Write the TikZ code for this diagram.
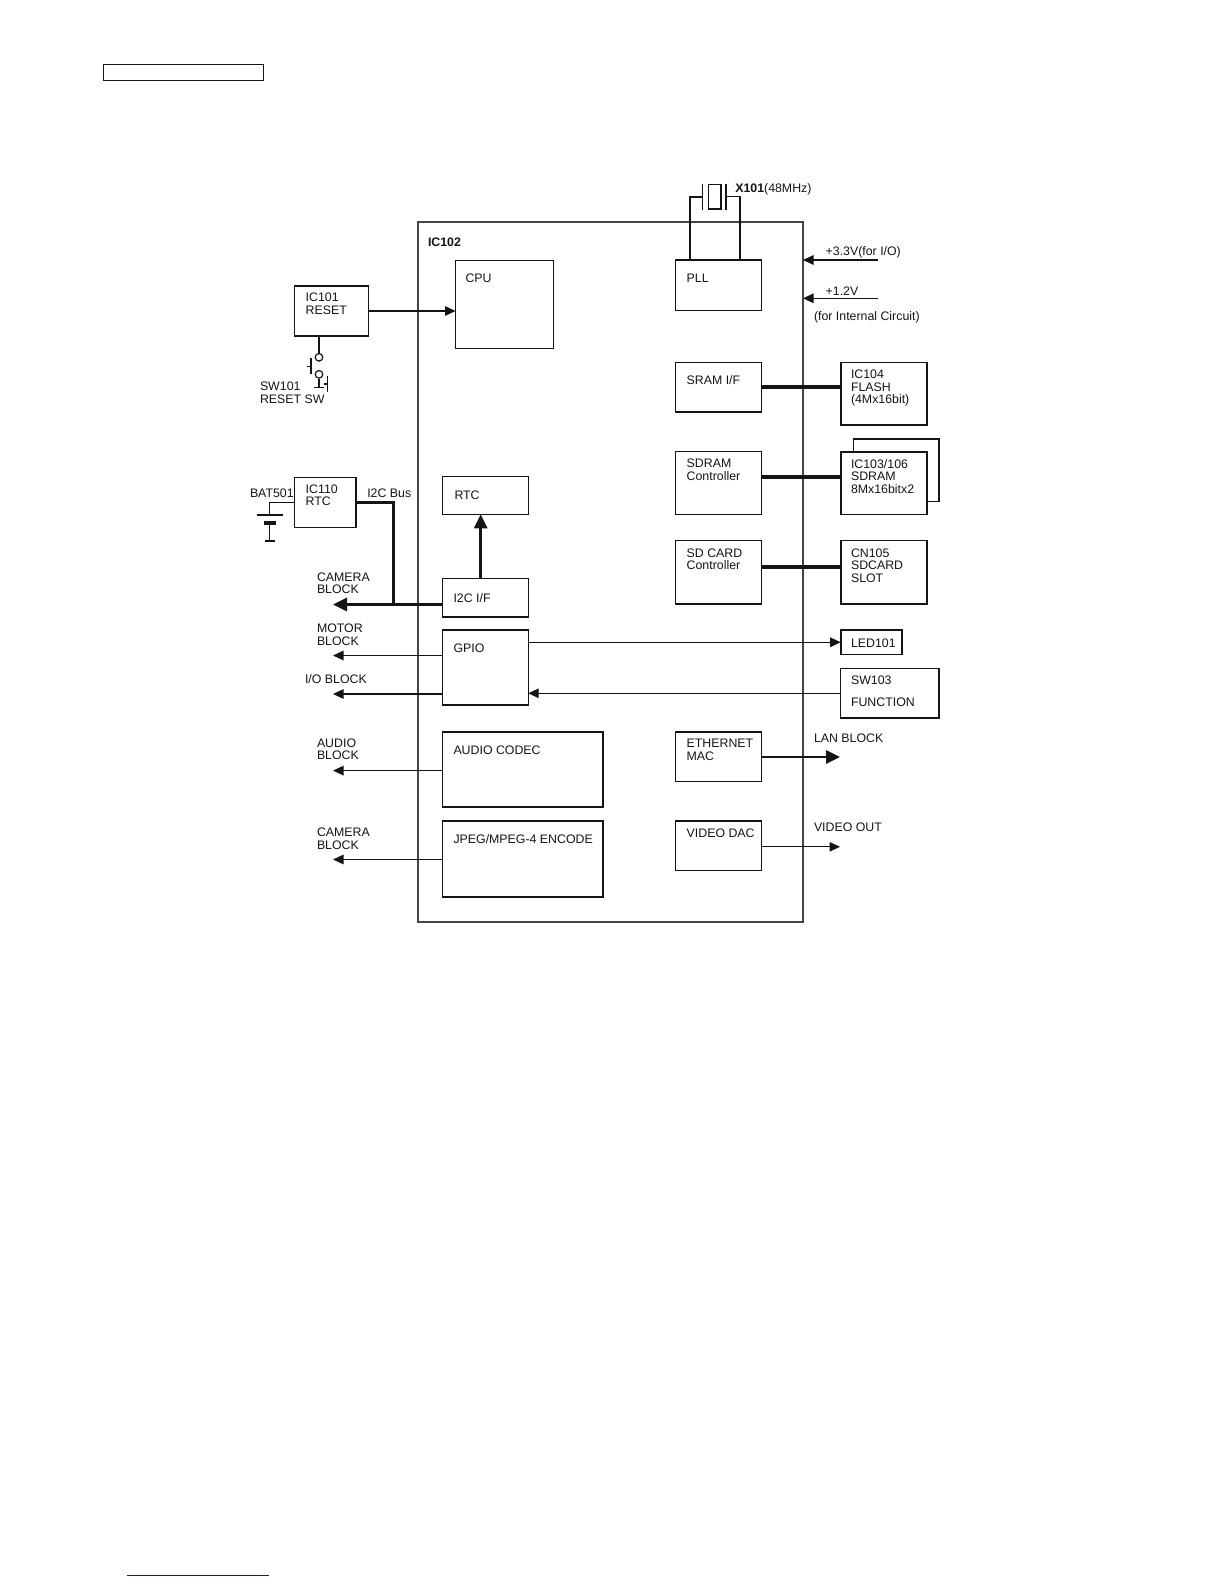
\documentclass[tikz,border=0pt]{standalone}
\usepackage{fontspec}
\setmainfont{Liberation Sans}
\usetikzlibrary{arrows.meta}
\definecolor{ink}{gray}{0.08}
\definecolor{linknavy}{RGB}{20,20,150}
\tikzset{
  x=1pt,y=-1pt,
  bx/.style={draw=ink,line width=1.3pt,anchor=north west,inner sep=0pt,outer sep=0pt},
  bxheavy/.style={bx,line width=1.6pt},
  chip/.style={bx,draw=ink!80,line width=1.3pt},
  lbl/.style={anchor=north west,inner sep=0pt,outer sep=0pt,align=left,text=ink,yshift=-0.4pt,font=\fontsize{12.35}{12.5}\selectfont},
  wire/.style={draw=ink,line width=1.3pt},
  thinarrow/.style={wire,-{Triangle[length=10.5pt,width=9.5pt]}},
  heavyarrow/.style={draw=ink,line width=3pt,-{Triangle[length=14pt,width=13pt]}},
  midarrow/.style={draw=ink,line width=2.8pt,-{Triangle[length=14pt,width=13pt]}},
  bus/.style={draw=ink,line width=4pt},
}
\newcommand{\bx}[6][bx]{\node[#1,minimum width={#5-#3},minimum height={#6-#4}] (#2) at (#3,#4) {};}
\newcommand{\lb}[4]{\node[lbl] (#1) at (#2,#3) {#4};}
\begin{document}
\begin{tikzpicture}
\useasboundingbox (0,0) rectangle (1224,1584);
% page furniture
\bx{header}{103.5}{64.5}{263.5}{80.5}
\coordinate (linkA) at (127,1575.3);
\coordinate (linkB) at (269,1575.3);
\draw[linknavy,line width=1.3pt] (linkA) -- (linkB);
% main chip
\bx[chip]{ic102}{418}{222}{803}{922}
% inner blocks
\bx{cpu}{455.5}{260.5}{553.5}{348.5}
\bx{pll}{675.7}{260}{761.4}{310.7}
\bx{sram}{675.7}{362.5}{761.4}{412}
\bx{sdctl}{675.7}{451.7}{761.4}{514.3}
\bx{sdcard}{675.7}{540.5}{761.4}{604}
\bx{rtc}{442.4}{476.7}{528.2}{514.3}
\bx{i2c}{442.4}{578.7}{528.2}{617}
\bx{gpio}{442.4}{630}{528.2}{705}
\bx{codec}{442.4}{732}{603}{807}
\bx{jpeg}{442.4}{821}{603}{897}
\bx{mac}{675.7}{732}{761.4}{781.7}
\bx{dac}{675.7}{821}{761.4}{870.5}
% outer blocks
\bx[bxheavy]{ic101}{294.3}{286}{368.3}{336}
\bx[bxheavy]{ic110}{294.3}{477.3}{355.7}{527.3}
\bx[bxheavy]{ic104}{840.7}{362.5}{926.7}{425}
\coordinate (backA) at (853.3,451.7);
\coordinate (backB) at (853.3,439);
\coordinate (backC) at (939,439);
\coordinate (backD) at (939,501.7);
\coordinate (backE) at (926.7,501.7);
\draw[wire] (backA) -- (backB) -- (backC) -- (backD) -- (backE);
\bx[bxheavy]{ic103}{840.7}{451.7}{926.7}{514.3}
\bx[bxheavy]{cn105}{840.7}{540.5}{926.7}{604}
\bx[bxheavy]{led}{840.7}{630}{902}{654.5}
\bx{sw103}{840.7}{668.6}{939}{718}
% labels
\node[lbl,font=\fontsize{12.35}{12.5}\selectfont\bfseries] (t102) at (428,237) {IC102};
\lb{tcpu}{465.5}{273.5}{CPU}
\lb{tpll}{686.7}{274}{PLL}
\lb{tx}{735.3}{183.5}{\textbf{X101}(48MHz)}
\lb{tv33}{825.7}{246.3}{+3.3V(for I/O)}
\lb{tv12}{825.7}{286.3}{+1.2V}
\lb{tint}{814}{311.5}{(for Internal Circuit)}
\lb{tsram}{686.7}{375.4}{SRAM I/F}
\lb{t104}{851}{369.5}{IC104\\FLASH\\(4Mx16bit)}
\lb{tsdc}{686.7}{458.5}{SDRAM\\Controller}
\lb{t103}{851}{458.7}{IC103/106\\SDRAM\\8Mx16bitx2}
\lb{tsdk}{686.7}{548}{SD CARD\\Controller}
\lb{t105}{851}{548}{CN105\\SDCARD\\SLOT}
\lb{tled}{851}{638}{LED101}
\lb{tsw}{851}{675.4}{SW103\\[9.8pt]FUNCTION}
\lb{tmac}{686.7}{739}{ETHERNET\\MAC}
\lb{tdac}{686.7}{828}{VIDEO DAC}
\lb{tlan}{814}{733}{LAN BLOCK}
\lb{tvid}{814}{822}{VIDEO OUT}
\lb{tcod}{453.5}{745}{AUDIO CODEC}
\lb{tjpg}{453.5}{834}{JPEG/MPEG-4 ENCODE}
\lb{tgpio}{453.5}{643}{GPIO}
\lb{ti2c}{453.5}{592.7}{I2C I/F}
\lb{trtc}{454.5}{490.5}{RTC}
\lb{t101}{305.7}{292.7}{IC101\\RESET}
\lb{t110}{305.7}{484}{IC110\\RTC}
\lb{tbus}{367.3}{488.7}{I2C Bus}
\lb{tbat}{250}{488.7}{BAT501}
\lb{tsw1}{260}{381.7}{SW101\\RESET SW}
\lb{tcam}{317}{572.4}{CAMERA\\BLOCK}
\lb{tmot}{317}{623.8}{MOTOR\\BLOCK}
\lb{tio}{305}{674.4}{I/O BLOCK}
\lb{taud}{317}{738}{AUDIO\\BLOCK}
\lb{tcam2}{317}{827.8}{CAMERA\\BLOCK}
% reset line and switch
\draw[-{Triangle[length=10.5pt,width=9.5pt]},draw=ink,line width=1.5pt] (ic101.east) -- (ic101.east -| cpu.west);
\node[draw=ink,line width=1.2pt,circle,inner sep=0pt,minimum size=7.6pt] (c1) at (319,357.3) {};
\node[draw=ink,line width=1.2pt,circle,inner sep=0pt,minimum size=7.6pt] (c2) at (319,374.3) {};
\draw[wire] (c1.north |- ic101.south) -- (c1.north);
\coordinate (swg) at (319,387.7);
\coordinate (swgL) at (314,387.7);
\coordinate (swgR) at (323.5,387.7);
\draw[wire] (c2.south) -- (swg);
\draw[wire] (swgL) -- (swgR);
\coordinate (pa) at (310.7,358); \coordinate (pb) at (310.7,374);
\coordinate (pc) at (306.7,366.7); \coordinate (pd) at (310.7,366.7);
\draw[draw=ink,line width=1.6pt] (pa) -- (pb);
\draw[wire] (pc) -- (pd);
\coordinate (qa) at (327.3,376); \coordinate (qb) at (327.3,392);
\coordinate (qc) at (323.5,384); \coordinate (qd) at (327.3,384);
\draw[draw=ink,line width=1.6pt] (qa) -- (qb);
\draw[wire] (qc) -- (qd);
% battery
\coordinate (ba) at (294.3,502.7); \coordinate (bb) at (269.3,502.7); \coordinate (bc) at (269.3,515);
\coordinate (pl1) at (256.7,515); \coordinate (pl2) at (282.7,515);
\coordinate (th1) at (264,523.3); \coordinate (th2) at (275.7,523.3);
\coordinate (bd) at (269.7,523.3); \coordinate (be) at (269.7,541);
\coordinate (bo1) at (265,541); \coordinate (bo2) at (275,541);
\draw[wire] (ba) -- (bb) -- (bc);
\draw[wire] (pl1) -- (pl2);
\draw[draw=ink,line width=4pt] (th1) -- (th2);
\draw[wire] (bd) -- (be);
\draw[draw=ink,line width=1.6pt] (bo1) -- (bo2);
% I2C bus
\coordinate (busA) at (355.7,502.7);
\coordinate (busB) at (393.3,502.7);
\coordinate (busC) at (393.3,604.5);
\coordinate (busR) at (442.4,604.5);
\coordinate (busL) at (333,604.5);
\draw[draw=ink,line width=3pt,line join=miter] (busA) -- (busB) -- (busC);
\draw[heavyarrow] (busR) -- (busL);
\draw[midarrow] (i2c.north -| 480.7,0) -- (rtc.south -| 480.7,0);
% crystal
\coordinate (xa) at (690,260); \coordinate (xb) at (690,196.7); \coordinate (xc) at (702.7,196.7);
\coordinate (xd) at (740,260); \coordinate (xe) at (740,196.7); \coordinate (xf) at (726,196.7);
\coordinate (xp1) at (702.7,184); \coordinate (xp2) at (702.7,210);
\coordinate (xq1) at (726,184); \coordinate (xq2) at (726,210);
\draw[draw=ink,line width=2.2pt] (xa) -- (xb) -- (xc);
\draw[draw=ink,line width=1.5pt] (xd) -- (xe) -- (xf);
\draw[wire] (xp1) -- (xp2);
\draw[wire] (xq1) -- (xq2);
\node[bx,minimum width=12.7pt,minimum height=24.5pt] (xtal) at (708.3,184.5) {};
% supply arrows
\coordinate (v1) at (878.3,260); \coordinate (v2) at (878.3,298.3);
\draw[thinarrow] (v1) -- (v1 -| ic102.east);
\draw[thinarrow] (v2) -- (v2 -| ic102.east);
% memory buses
\draw[bus] (sram.east |- 0,387) -- (ic104.west |- 0,387);
\draw[bus] (sdctl.east |- 0,476.7) -- (ic103.west |- 0,476.7);
\draw[bus] (sdcard.east |- 0,566.5) -- (cn105.west |- 0,566.5);
% GPIO
\draw[thinarrow] (led.west -| gpio.east) -- (led.west);
\draw[thinarrow] (sw103.west) -- (sw103.west -| gpio.east);
\coordinate (motor) at (333,655.5);
\coordinate (iob) at (333,694);
\draw[thinarrow] (motor -| gpio.west) -- (motor);
\draw[thinarrow] (iob -| gpio.west) -- (iob);
% west outputs
\coordinate (audio) at (333,770.6);
\coordinate (cam2) at (333,859.5);
\draw[thinarrow] (audio -| codec.west) -- (audio);
\draw[thinarrow] (cam2 -| jpeg.west) -- (cam2);
% east outputs
\coordinate (lan) at (840,757);
\coordinate (vout) at (840,846.8);
\draw[midarrow] (lan -| mac.east) -- (lan);
\draw[thinarrow,line width=1pt] (vout -| dac.east) -- (vout);
\end{tikzpicture}
\end{document}
